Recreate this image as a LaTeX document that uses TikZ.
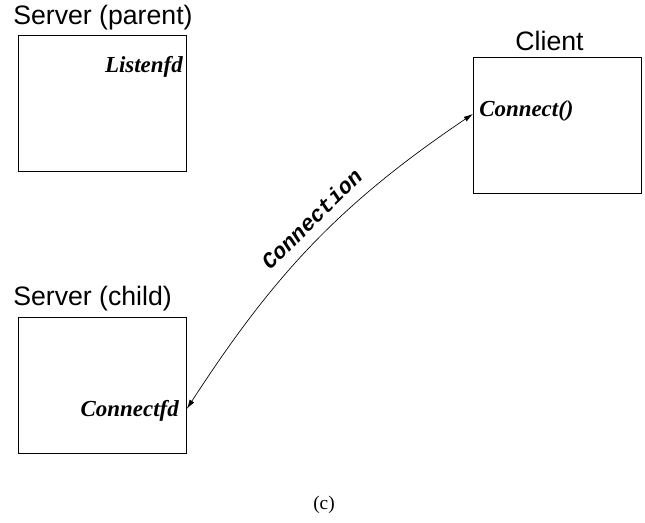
\documentclass[tikz,border=0pt]{standalone}
\usepackage{fontspec}
\setmainfont{Liberation Serif}
\newfontfamily\titlefont{Liberation Sans}
\newfontfamily\monofont{Liberation Mono}
\usetikzlibrary{arrows.meta}
\begin{document}
\begin{tikzpicture}[x=0.75pt,y=-0.75pt,
  procbox/.style={draw, line width=0.6pt, minimum width=126pt, minimum height=102pt, anchor=north west, inner sep=0pt},
  title/.style={font=\titlefont\fontsize{20}{24}\selectfont, inner sep=0pt},
  fdlabel/.style={font=\bfseries\itshape\fontsize{17.2}{20}\selectfont, inner sep=0pt},
  link/.style={line width=0.5pt, {Latex[length=7pt,width=4pt]}-{Latex[length=7pt,width=4pt]}},
  linklabel/.style={font=\monofont\bfseries\itshape\fontsize{16.5}{19}\selectfont, inner sep=0pt}]
\useasboundingbox (0,0) rectangle (645,523);

% processes
\node[procbox] (parent) at (18,35) {};
\node[procbox] (client) at (473,57) {};
\node[procbox] (child) at (18,317) {};

% titles above the boxes
\node[title, anchor=base west] (tparent) at (13,25) {Server (parent)};
\node[title, anchor=base] (tclient) at (549.5,51) {Client};
\node[title, anchor=base west] (tchild) at (13,306) {Server (child)};

% descriptors and calls
\node[fdlabel, anchor=base east] (listenfd) at (183,73) {Listenfd};
\node[fdlabel, anchor=base west] (connect) at (479,117) {Connect()};
\node[fdlabel, anchor=base east] (connectfd) at (179,416) {Connectfd};

% connection between child and client
\coordinate (cend) at ([shift={(0,23.5)}]child.east);
\coordinate (send) at ([shift={(0,-11.5)}]client.west);
\draw[link] (cend) to[out=57, in=214]
  node[linklabel, sloped, above=8pt, pos=0.545] (conn) {Connection} (send);

% caption
\node[font=\fontsize{14.5}{17}\selectfont, inner sep=0pt] (caption) at (324,505) {(c)};
\end{tikzpicture}
\end{document}
